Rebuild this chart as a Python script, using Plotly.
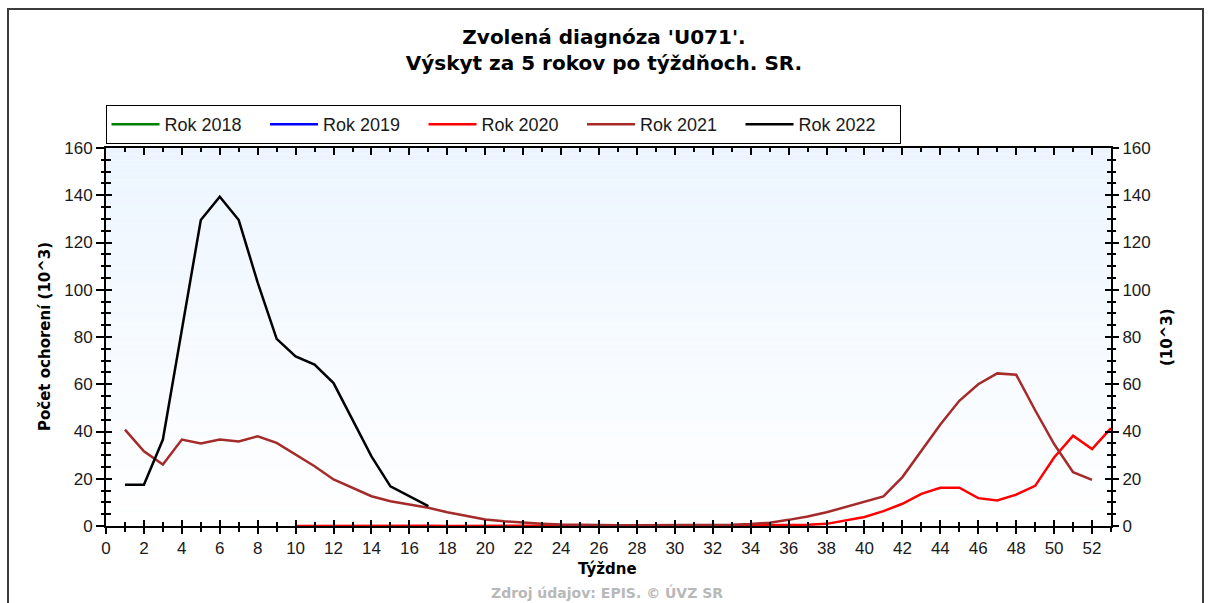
import plotly.graph_objects as go

# ---------------- data ----------------
series_names = ["Rok 2018", "Rok 2019", "Rok 2020", "Rok 2021", "Rok 2022"]
series_colors = ["#008000", "#0000FF", "#FF0000", "#A52A2A", "#000000"]

weeks2018 = []
rok2018 = []
weeks2019 = []
rok2019 = []

weeks2020 = list(range(10, 54))
rok2020 = [0.01, 0.05, 0.15, 0.2, 0.25, 0.2, 0.15, 0.08, 0.04, 0.02,
           0.02, 0.02, 0.02, 0.02, 0.03, 0.05, 0.08, 0.08, 0.1, 0.1,
           0.1, 0.12, 0.15, 0.2, 0.3, 0.35, 0.45, 0.5, 0.9, 2.2,
           3.8, 6.3, 9.4, 13.6, 16.2, 16.2, 11.8, 10.8, 13.3, 17.0,
           29.0, 38.2, 32.6, 41.4]

weeks2021 = list(range(1, 53))
rok2021 = [40.8, 31.6, 26.0, 36.6, 34.9, 36.6, 35.8, 38.0, 35.2, 30.2,
           25.3, 19.7, 16.1, 12.6, 10.5, 9.1, 7.7, 5.8, 4.2, 2.8,
           2.0, 1.4, 1.0, 0.6, 0.4, 0.3, 0.3, 0.3, 0.3, 0.3,
           0.3, 0.35, 0.5, 0.8, 1.4, 2.6, 4.0, 5.8, 8.0, 10.1,
           12.5, 20.7, 32.0, 43.0, 53.0, 60.0, 64.6, 64.0, 49.0, 34.7,
           22.8, 19.5]

weeks2022 = list(range(1, 18))
rok2022 = [17.5, 17.5, 36.6, 83.0, 129.5, 139.4, 129.5, 103.0, 79.2, 71.8,
           68.3, 60.5, 45.0, 29.5, 16.8, 12.6, 8.4]

x_ticks = list(range(0, 54, 2))     # major week ticks
y_ticks = list(range(0, 161, 20))   # major value ticks
x_range = [0, 53]
y_range = [0, 160]

title_text = "Zvolená diagnóza 'U071'.<br>Výskyt za 5 rokov po týždňoch. SR."
y_title = "Počet ochorení (10^3)"
y2_title = "(10^3)"
x_title = "Týždne"
source_text = "Zdroj údajov: EPIS. © ÚVZ SR"

# ---------------- geometry helpers ----------------
W, H = 1208, 603
L, R, T, B = 106, 97, 148, 77
PW = W - L - R
PH = H - T - B


def px(x):
    return (x - L) / PW


def py(y):
    return (H - B - y) / PH


REG = "Liberation Sans, Arial, sans-serif"
BOLD = "DejaVu Sans, sans-serif"

fig = go.Figure()

all_x = [weeks2018, weeks2019, weeks2020, weeks2021, weeks2022]
all_y = [rok2018, rok2019, rok2020, rok2021, rok2022]
for name, color, xs, ys in zip(series_names, series_colors, all_x, all_y):
    fig.add_trace(go.Scatter(
        x=xs if xs else [None], y=ys if ys else [None], name=name, mode="lines",
        line=dict(color=color, width=2.5), cliponaxis=False,
        hoverinfo="x+y+name"))

# invisible helpers so the overlay (tick-only) axes are created
for xa, ya in [("x2", "y"), ("x3", "y"), ("x", "y2"), ("x", "y3"), ("x", "y4")]:
    fig.add_trace(go.Scatter(x=[None], y=[None], xaxis=xa, yaxis=ya,
                             showlegend=False, hoverinfo="skip", mode="lines"))

# gradient background
shapes = []
N = 60
top_col = (236, 245, 255)
for i in range(N):
    f = (i + 0.5) / N
    c = tuple(round(255 + (tc - 255) * f) for tc in top_col)
    shapes.append(dict(type="rect", xref="x domain", yref="y domain",
                       x0=0, x1=1, y0=i / N, y1=(i + 1) / N,
                       fillcolor="rgb(%d,%d,%d)" % c, line=dict(width=0),
                       layer="below"))
# outer frame
shapes.append(dict(type="rect", xref="paper", yref="paper",
                   x0=px(8), x1=px(1203), y0=py(615), y1=py(9),
                   line=dict(color="#3c3c3c", width=2), fillcolor="rgba(0,0,0,0)",
                   layer="above"))

tickfont = dict(family=REG, size=17, color="#1a1a1a")
common = dict(showgrid=False, zeroline=False, linecolor="black", linewidth=2,
              tickcolor="black", tickwidth=1.5, fixedrange=True)

xdt = x_ticks[1] - x_ticks[0]
ydt = y_ticks[1] - y_ticks[0]
xcommon = dict(common, range=x_range, tickmode="linear", tick0=x_ticks[0], dtick=xdt)
ycommon = dict(common, range=y_range, tickmode="linear", tick0=y_ticks[0], dtick=ydt)


def minor(d, ticks, ln):
    return dict(tickmode="linear", tick0=0, dtick=d, ticks=ticks, ticklen=ln,
                tickcolor="black", tickwidth=1.5, showgrid=False)


fig.update_layout(
    width=W, height=H,
    margin=dict(l=L, r=R, t=T, b=B, pad=0),
    paper_bgcolor="white", plot_bgcolor="white",
    title=dict(text=title_text, x=0.5, xref="container", xanchor="center",
               y=1 - 44 / H, yref="container", yanchor="top",
               font=dict(family=BOLD, size=20, color="black", weight="bold")),
    showlegend=True,
    legend=dict(orientation="h", x=px(105.5), y=py(105), xanchor="left", yanchor="top",
                bordercolor="black", borderwidth=1, bgcolor="white",
                font=dict(family=REG, size=18, color="#1a1a1a"),
                entrywidth=95.5, entrywidthmode="pixels", itemwidth=48,
                traceorder="normal"),
    xaxis=dict(xcommon, showline=True, ticks="outside", ticklen=6,
               tickfont=tickfont, minor=minor(1, "outside", 4)),
    xaxis2=dict(xcommon, overlaying="x", anchor="y", side="bottom", showline=False,
                ticks="inside", ticklen=6, showticklabels=False,
                minor=minor(1, "inside", 4)),
    xaxis3=dict(xcommon, overlaying="x", anchor="y", side="top", showline=True,
                ticks="inside", ticklen=7, showticklabels=False,
                minor=minor(1, "inside", 4)),
    yaxis=dict(ycommon, showline=True, ticks="outside", ticklen=8,
               tickfont=tickfont, minor=minor(5, "outside", 3)),
    yaxis2=dict(ycommon, overlaying="y", anchor="x", side="right", showline=True,
                ticks="outside", ticklen=6, tickfont=tickfont,
                minor=minor(5, "outside", 3)),
    yaxis3=dict(ycommon, overlaying="y", anchor="x", side="left", showline=False,
                ticks="inside", ticklen=6, showticklabels=False,
                minor=minor(5, "inside", 5)),
    yaxis4=dict(ycommon, overlaying="y", anchor="x", side="right", showline=False,
                ticks="inside", ticklen=6, showticklabels=False,
                minor=minor(5, "inside", 4)),
    shapes=shapes,
    annotations=[
        dict(text=y_title, x=px(45), y=py(337), xref="paper", yref="paper",
             textangle=-90, showarrow=False, xanchor="center", yanchor="middle",
             font=dict(family=BOLD, size=15, color="black", weight="bold")),
        dict(text=y2_title, x=px(1167), y=py(337), xref="paper", yref="paper",
             textangle=-90, showarrow=False, xanchor="center", yanchor="middle",
             font=dict(family=BOLD, size=15, color="black", weight="bold")),
        dict(text=x_title, x=px(607), y=py(569), xref="paper", yref="paper",
             showarrow=False, xanchor="center", yanchor="middle",
             font=dict(family=BOLD, size=15, color="black", weight="bold")),
        dict(text=source_text, x=px(607), y=py(592), xref="paper", yref="paper",
             showarrow=False, xanchor="center", yanchor="middle",
             font=dict(family=BOLD, size=14, color="#b8b8b8", weight="bold")),
    ],
)

fig.write_html("out.html", config={"displayModeBar": False},
               post_script="document.body.style.margin='0px';")
